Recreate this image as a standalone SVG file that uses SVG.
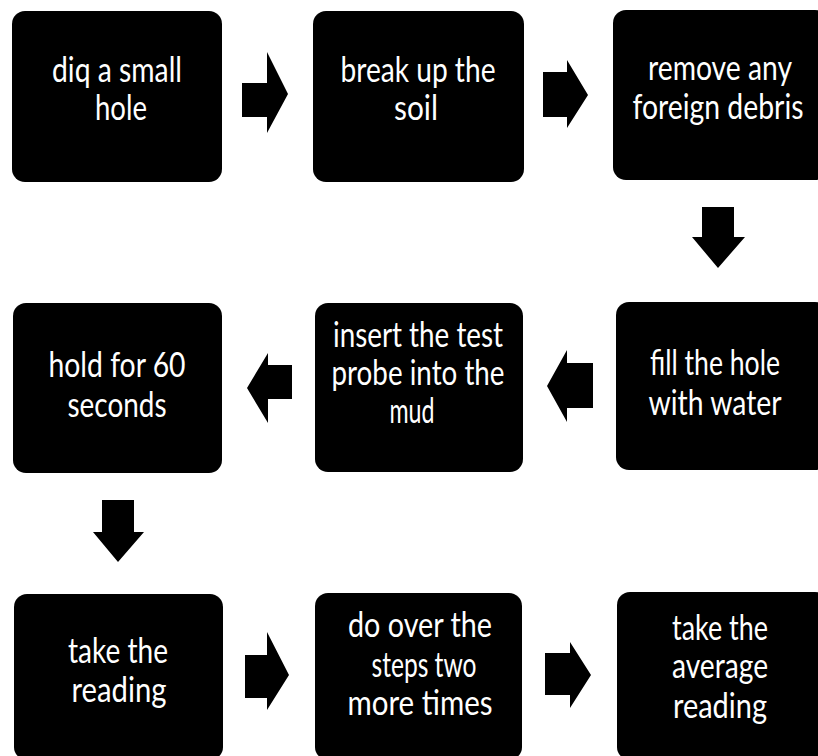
<svg xmlns="http://www.w3.org/2000/svg" width="818" height="756" viewBox="0 0 818 756">
<style>
.box{fill:#000;}
.lbl{fill:#fff;font-family:Lato,"Open Sans","Liberation Sans",sans-serif;font-size:35px;text-anchor:middle;}
.arr{fill:#000;}
</style>
<rect width="818" height="756" fill="#fff"/>
<g id="connectors">
<polygon class="arr" points="242,83 267,83 267,52 288,94 267,133 267,117 242,117"/>
<polygon class="arr" points="543,72 567,72 567,60 588,95 567,128 567,117 543,117"/>
<polygon class="arr" points="702,207 734,207 734,237 745,237 718,268 692,237 702,237"/>
<polygon class="arr" points="593,363 567,363 567,350 547,386 567,422 567,408 593,408"/>
<polygon class="arr" points="292,365 268,365 268,353 247,388 268,423 268,399 292,399"/>
<polygon class="arr" points="102,500 134,500 134,532 144,532 118,562 93,532 102,532"/>
<polygon class="arr" points="245,655 267,655 267,632 289,675 267,710 267,698 245,698"/>
<polygon class="arr" points="545,653 570,653 570,642 591,675 570,708 570,695 545,695"/>
</g>
<g id="n1">
<rect class="box" x="12" y="11" width="210" height="171" rx="13"/>
<text class="lbl" x="117" y="82" textLength="130" lengthAdjust="spacingAndGlyphs">diq a small</text>
<text class="lbl" x="121" y="120" textLength="52" lengthAdjust="spacingAndGlyphs">hole</text>
</g>
<g id="n2">
<rect class="box" x="313" y="11" width="211" height="171" rx="13"/>
<text class="lbl" x="418" y="82" textLength="155" lengthAdjust="spacingAndGlyphs">break up the</text>
<text class="lbl" x="416" y="120" textLength="44" lengthAdjust="spacingAndGlyphs">soil</text>
</g>
<g id="n3">
<rect class="box" x="613" y="10" width="215" height="170" rx="13"/>
<text class="lbl" x="720" y="80" textLength="144" lengthAdjust="spacingAndGlyphs">remove any</text>
<text class="lbl" x="718" y="119" textLength="171" lengthAdjust="spacingAndGlyphs">foreign debris</text>
</g>
<g id="n4">
<rect class="box" x="13" y="303" width="209" height="170" rx="13"/>
<text class="lbl" x="117" y="377" textLength="137" lengthAdjust="spacingAndGlyphs">hold for 60</text>
<text class="lbl" x="117" y="417" textLength="99" lengthAdjust="spacingAndGlyphs">seconds</text>
</g>
<g id="n5">
<rect class="box" x="315" y="303" width="208" height="169" rx="13"/>
<text class="lbl" x="418" y="347" textLength="170" lengthAdjust="spacingAndGlyphs">insert the test</text>
<text class="lbl" x="418" y="385" textLength="173" lengthAdjust="spacingAndGlyphs">probe into the</text>
<text class="lbl" x="412" y="423" textLength="45" lengthAdjust="spacingAndGlyphs">mud</text>
</g>
<g id="n6">
<rect class="box" x="616" y="302" width="212" height="168" rx="13"/>
<text class="lbl" x="715" y="375" textLength="130" lengthAdjust="spacingAndGlyphs">fill the hole</text>
<text class="lbl" x="715" y="415" textLength="133" lengthAdjust="spacingAndGlyphs">with water</text>
</g>
<g id="n7">
<rect class="box" x="14" y="594" width="209" height="166" rx="13"/>
<text class="lbl" x="118" y="663" textLength="100" lengthAdjust="spacingAndGlyphs">take the</text>
<text class="lbl" x="119" y="702" textLength="95" lengthAdjust="spacingAndGlyphs">reading</text>
</g>
<g id="n8">
<rect class="box" x="315" y="593" width="207" height="167" rx="13"/>
<text class="lbl" x="420" y="637" textLength="144" lengthAdjust="spacingAndGlyphs">do over the</text>
<text class="lbl" x="424" y="677" textLength="105" lengthAdjust="spacingAndGlyphs">steps two</text>
<text class="lbl" x="420" y="715" textLength="145" lengthAdjust="spacingAndGlyphs">more times</text>
</g>
<g id="n9">
<rect class="box" x="617" y="592" width="211" height="168" rx="13"/>
<text class="lbl" x="720" y="640" textLength="96" lengthAdjust="spacingAndGlyphs">take the</text>
<text class="lbl" x="720" y="678" textLength="96" lengthAdjust="spacingAndGlyphs">average</text>
<text class="lbl" x="720" y="718" textLength="94" lengthAdjust="spacingAndGlyphs">reading</text>
</g>
</svg>
